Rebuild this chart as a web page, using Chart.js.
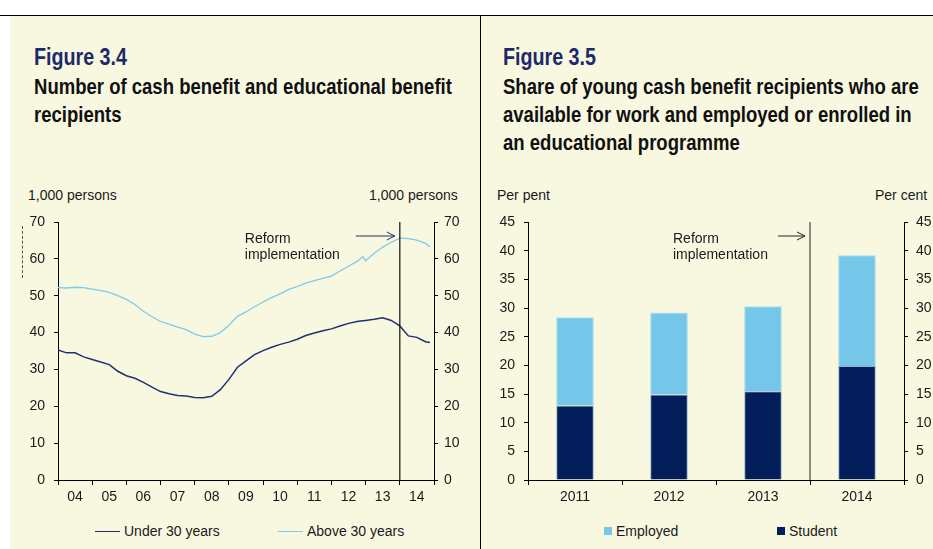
<!DOCTYPE html>
<html>
<head>
<meta charset="utf-8">
<script src="https://cdn.jsdelivr.net/npm/chart.js@4.4.1/dist/chart.umd.min.js"></script>
<style>
  body { margin: 0; width: 933px; height: 549px; background: #fff; position: relative; overflow: hidden;
         font-family: "Liberation Sans", Arial, sans-serif; color: #1a1a1a; }
  .bg { position: absolute; left: 10px; top: 16px; width: 923px; height: 533px; background: #f8f8e1; }
  .topline { position: absolute; left: 0; top: 15px; width: 933px; height: 1px; background: #000; }
  .divider { position: absolute; left: 480px; top: 16px; width: 1px; height: 533px; background: #000; }
  .dots { position: absolute; left: 22px; top: 226px; height: 52px; border-left: 1px dashed #555; }
  /* narrow bold headings: Arial Narrow look via horizontal squeeze */
  .fig, .sub { position: absolute; font-family: "Liberation Sans", Arial, sans-serif; font-weight: bold;
               white-space: nowrap; transform-origin: 0 0; }
  .fig { color: #1c2a6b; font-size: 24px; transform: scaleX(0.82); }
  .sub { color: #111; font-size: 22px; line-height: 28px; transform: scaleX(0.842); }
  .unit { position: absolute; font-size: 14px; top: 187px; white-space: nowrap; }
  canvas { position: absolute; }
  .legend { position: absolute; font-size: 14px; top: 523px; }
  .legend span.item { position: absolute; white-space: nowrap; }
  .legend i { display: inline-block; vertical-align: middle; margin-right: 4px; position: relative; top: -1px; }
</style>
</head>
<body>
<div class="bg"></div>
<div class="topline"></div>
<div class="divider"></div>
<div class="dots"></div>

<div class="fig" style="left:34px; top:43px;">Figure 3.4</div>
<div class="sub" style="left:34px; top:73px;">Number of cash benefit and educational benefit<br>recipients</div>
<div class="fig" style="left:503px; top:43px;">Figure 3.5</div>
<div class="sub" style="left:503px; top:73px;">Share of young cash benefit recipients who are<br>available for work and employed or enrolled in<br>an educational programme</div>

<div class="unit" style="left:28px;">1,000 persons</div>
<div class="unit" style="left:369px;">1,000 persons</div>
<div class="unit" style="left:497px;">Per pent</div>
<div class="unit" style="left:875px;">Per cent</div>

<canvas id="left" width="470" height="340" style="left:10px; top:180px;"></canvas>
<canvas id="right" width="453" height="340" style="left:480px; top:180px;"></canvas>

<div class="legend" id="legLeft"></div>
<div class="legend" id="legRight"></div>

<script>
// Figure 3.4: quarterly readings, 1,000 persons
const quarters = [
  2004, 2004.25, 2004.5, 2004.75, 2005, 2005.25, 2005.5, 2005.75,
  2006, 2006.25, 2006.5, 2006.75, 2007, 2007.25, 2007.5, 2007.75,
  2008, 2008.25, 2008.5, 2008.75, 2009, 2009.25, 2009.5, 2009.75,
  2010, 2010.25, 2010.5, 2010.75, 2011, 2011.25, 2011.5, 2011.75,
  2012, 2012.25, 2012.5, 2012.75, 2012.92, 2013, 2013.25, 2013.5, 2013.75,
  2014, 2014.25, 2014.5, 2014.75, 2014.88
];
const under30 = [
  35.3, 34.5, 34.5, 33.4, 32.7, 32.0, 31.3, 29.5,
  28.3, 27.6, 26.5, 25.2, 24.0, 23.4, 22.9, 22.8,
  22.4, 22.3, 22.7, 24.5, 27.3, 30.6, 32.3, 34.0,
  35.1, 36.0, 36.8, 37.4, 38.2, 39.2, 39.9, 40.5,
  41.0, 41.8, 42.5, 43.0, 43.2, 43.3, 43.6, 44.0, 43.3,
  41.8, 39.1, 38.7, 37.5, 37.3
];
const above30 = [
  52.2, 52.1, 52.3, 52.2, 51.8, 51.4, 50.9, 50.0,
  49.0, 47.6, 45.8, 44.3, 43.0, 42.3, 41.5, 40.8,
  39.6, 38.9, 39.0, 40.0, 42.0, 44.4, 45.6, 47.0,
  48.3, 49.5, 50.5, 51.7, 52.5, 53.4, 54.1, 54.7,
  55.3, 56.7, 58.0, 59.3, 60.6, 59.5, 61.5, 63.2, 64.5,
  65.6, 65.5, 65.1, 64.2, 63.3
];
const reformYear = 2014;

// Figure 3.5: per cent
const barYears = ["2011", "2012", "2013", "2014"];
const student = [13.0, 14.9, 15.5, 19.9];
const employed = [15.4, 14.3, 14.8, 19.3];

Chart.defaults.font.family = '"Liberation Sans", Arial, sans-serif';
Chart.defaults.font.size = 14;
Chart.defaults.color = "#1a1a1a";

const axisY = (pos, max, step, width, pad) => ({
  position: pos,
  min: 0,
  max: max,
  ticks: { stepSize: step, padding: pad },
  grid: { drawOnChartArea: false, tickLength: 4, color: "#000" },
  border: { color: "#000" },
  afterFit: (s) => { s.width = width; },
});

function reformPlugin(lineX, textDX, arrowFrom, arrowTo, arrowColor, lineColor) {
  return {
    id: "reform",
    afterDatasetsDraw(chart) {
      const ctx = chart.ctx;
      const a = chart.chartArea;
      const x = lineX(chart);
      ctx.save();
      ctx.strokeStyle = lineColor;
      ctx.lineWidth = 1.2;
      ctx.beginPath();
      ctx.moveTo(x, a.top);
      ctx.lineTo(x, a.bottom);
      ctx.stroke();
      // arrow
      const ay = a.top + 14;
      ctx.strokeStyle = arrowColor;
      ctx.lineWidth = 1;
      ctx.beginPath();
      ctx.moveTo(x - arrowFrom, ay);
      ctx.lineTo(x - arrowTo, ay);
      ctx.moveTo(x - arrowTo - 8, ay - 4);
      ctx.lineTo(x - arrowTo, ay);
      ctx.lineTo(x - arrowTo - 8, ay + 4);
      ctx.stroke();
      ctx.fillStyle = "#1a1a1a";
      ctx.font = '14px "Liberation Sans", Arial, sans-serif';
      ctx.textBaseline = "alphabetic";
      ctx.fillText("Reform", x - textDX, a.top + 21);
      ctx.fillText("implementation", x - textDX, a.top + 37);
      ctx.restore();
    },
  };
}

const leftChart = new Chart(document.getElementById("left"), {
  type: "line",
  data: {
    datasets: [
      {
        label: "Under 30 years",
        data: quarters.map((q, i) => ({ x: q, y: under30[i] })),
        borderColor: "#22306e",
        borderWidth: 1.5,
        pointRadius: 0,
        tension: 0,
      },
      {
        label: "Above 30 years",
        data: quarters.map((q, i) => ({ x: q, y: above30[i] })),
        borderColor: "#7ccbea",
        borderWidth: 1.3,
        pointRadius: 0,
        tension: 0,
      },
    ],
  },
  options: {
    responsive: false,
    animation: false,
    layout: { padding: { top: 42, left: 0, right: 0, bottom: 0 } },
    plugins: { legend: { display: false }, tooltip: { enabled: false } },
    scales: {
      x: {
        type: "linear",
        min: 2004,
        max: 2015,
        ticks: {
          stepSize: 1,
          autoSkip: false,
          maxRotation: 0,
          labelOffset: 17,
          padding: 4,
          callback: (v) => (v < 2015 ? String(v).slice(2) : ""),
        },
        grid: { drawOnChartArea: false, tickLength: 5, color: "#000" },
        border: { color: "#000" },
        afterFit: (s) => { s.height = 40; },
      },
      y: axisY("left", 70, 10, 48, 9),
      y2: axisY("right", 70, 10, 46, 6),
    },
  },
  plugins: [
    reformPlugin((c) => c.scales.x.getPixelForValue(reformYear), 155, 44, 5, "#22306e", "#111"),
  ],
});

const rightChart = new Chart(document.getElementById("right"), {
  type: "bar",
  data: {
    labels: barYears,
    datasets: [
      { label: "Student", data: student, backgroundColor: "#031d5b", borderColor: "#8fb4cf", borderWidth: 1 },
      { label: "Employed", data: employed, backgroundColor: "#74c7e8", borderColor: "#a6dcf0", borderWidth: 1 },
    ],
  },
  options: {
    responsive: false,
    animation: false,
    barPercentage: 0.4,
    categoryPercentage: 1.0,
    layout: { padding: { top: 42, left: 0, right: 0, bottom: 0 } },
    plugins: { legend: { display: false }, tooltip: { enabled: false } },
    scales: {
      x: {
        stacked: true,
        offset: true,
        ticks: { padding: 4, maxRotation: 0 },
        grid: { offset: true, drawOnChartArea: false, tickLength: 5, color: "#000" },
        border: { color: "#000" },
        afterFit: (s) => { s.height = 40; },
      },
      y: Object.assign(axisY("left", 45, 5, 48, 9), { stacked: true }),
      y2: axisY("right", 45, 5, 29, 8),
    },
  },
  plugins: [
    reformPlugin((c) => (c.scales.x.getPixelForValue(2) + c.scales.x.getPixelForValue(3)) / 2, 137, 32, 5, "#222", "#444"),
  ],
});

// HTML legends from the chart datasets
function buildLegend(el, chart, lefts, kind) {
  const sets = chart.data.datasets.slice();
  if (kind === "box") sets.reverse();
  sets.forEach((ds, i) => {
    const item = document.createElement("span");
    item.className = "item";
    item.style.left = lefts[i] + "px";
    const mark = document.createElement("i");
    if (kind === "line") {
      mark.style.width = "25px";
      mark.style.height = "0";
      mark.style.borderTop = "1.5px solid " + ds.borderColor;
    } else {
      mark.style.width = "8px";
      mark.style.height = "8px";
      mark.style.background = ds.backgroundColor;
    }
    item.appendChild(mark);
    item.appendChild(document.createTextNode(ds.label));
    el.appendChild(item);
  });
}
buildLegend(document.getElementById("legLeft"), leftChart, [95, 278], "line");
buildLegend(document.getElementById("legRight"), rightChart, [604, 777], "box");
</script>
</body>
</html>
